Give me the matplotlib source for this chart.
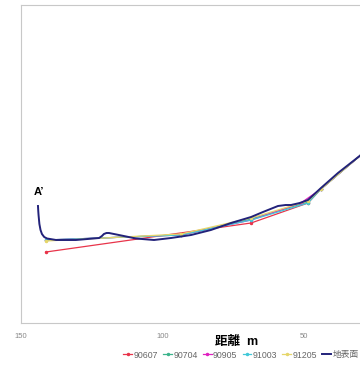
import matplotlib
matplotlib.use("Agg")
import matplotlib.pyplot as plt

plt.rcParams["font.family"] = ["Liberation Sans", "Noto Sans CJK JP", "DejaVu Sans"]

# distance (m) / elevation (m)
ground_d = [144.0, 143.9, 143.8, 143.5, 143.1, 142.6, 141.8, 140.8, 137.6, 130.6, 122.4, 121.4,
            120.7, 119.8, 118.9, 115.4, 109.4, 103.0, 97.0, 89.9, 82.9, 75.8, 68.7,
            64.5, 59.2, 56.5, 54.6, 51.5, 48.6, 44.0, 38.0, 29.9, 22.8]
ground_z = [11.7, 11.2, 10.8, 9.9, 9.3, 8.9, 8.6, 8.45, 8.3, 8.3, 8.5, 8.7,
            8.9, 9.0, 9.0, 8.8, 8.45, 8.3, 8.5, 8.8, 9.3, 10.0, 10.6,
            11.1, 11.7, 11.8, 11.8, 12.0, 12.3, 13.5, 15.0, 16.8, 18.5]

surveys = ["90607", "90704", "90905", "91003", "91205"]
colors = ["#e8344a", "#3cb48c", "#e020c0", "#40c8d8", "#e6d66a"]

d_90607 = [141.2, 68.7, 48.6, 44.0, 29.9, 22.8]
z_90607 = [7.1, 10.0, 12.0, 13.4, 16.8, 18.5]
d_90704 = [141.2, 93.5, 68.7, 48.6, 44.0, 29.9, 22.8]
z_90704 = [8.3, 8.8, 10.4, 12.1, 13.4, 16.8, 18.5]
d_90905 = [141.2, 93.5, 68.7, 51.1, 44.0, 29.9, 22.8]
z_90905 = [8.3, 8.8, 10.3, 12.0, 13.4, 16.8, 18.5]
d_91003 = [141.2, 93.5, 68.7, 48.6, 44.0, 29.9, 22.8]
z_91003 = [8.3, 8.8, 10.3, 12.0, 13.4, 16.8, 18.5]
d_91205 = [141.2, 93.5, 68.7, 48.6, 44.0, 29.9, 22.8]
z_91205 = [8.2, 8.9, 10.5, 12.2, 13.4, 16.8, 18.5]

series_d = [d_90607, d_90704, d_90905, d_91003, d_91205]
series_z = [z_90607, z_90704, z_90905, z_91003, z_91205]

fig = plt.figure(figsize=(3.6, 3.66), dpi=100)
# axes runs past the right edge, the picture is a crop
ax = fig.add_axes([21 / 360, 43 / 366, 150 * 2.83 / 360, 318 / 366])

for name, c, d, z in zip(surveys, colors, series_d, series_z):
    ax.plot(d, z, color=c, lw=0.9, marker="o", ms=1.5, label=name)
ax.plot(ground_d, ground_z, color="#22227a", lw=1.4, label="地表面")

ax.set_xlim(150, 0)
ax.set_ylim(0, 31.8)
ax.set_xticks([150, 100, 50])
ax.set_yticks([])
ax.tick_params(axis="x", length=0, pad=7, labelsize=5.5, labelcolor="#888888")
for s in ["left", "top", "bottom"]:
    ax.spines[s].set_color("#c8c8c8")
ax.spines["right"].set_visible(False)

ax.text(143.5, 12.6, "A’", fontsize=8, fontweight="bold", ha="center", va="bottom")

fig.text(237 / 360, 1 - 342 / 366, "距離  m", fontsize=9, fontweight="bold",
         ha="center", va="center")

fig.legend(ncol=6, loc="center left", bbox_to_anchor=(119 / 360, 1 - 355 / 366),
           frameon=False, fontsize=6.3, handlelength=1.0, handletextpad=0.15,
           columnspacing=0.6, borderpad=0, labelcolor="#666666")

fig.savefig("out.png", dpi=100)
